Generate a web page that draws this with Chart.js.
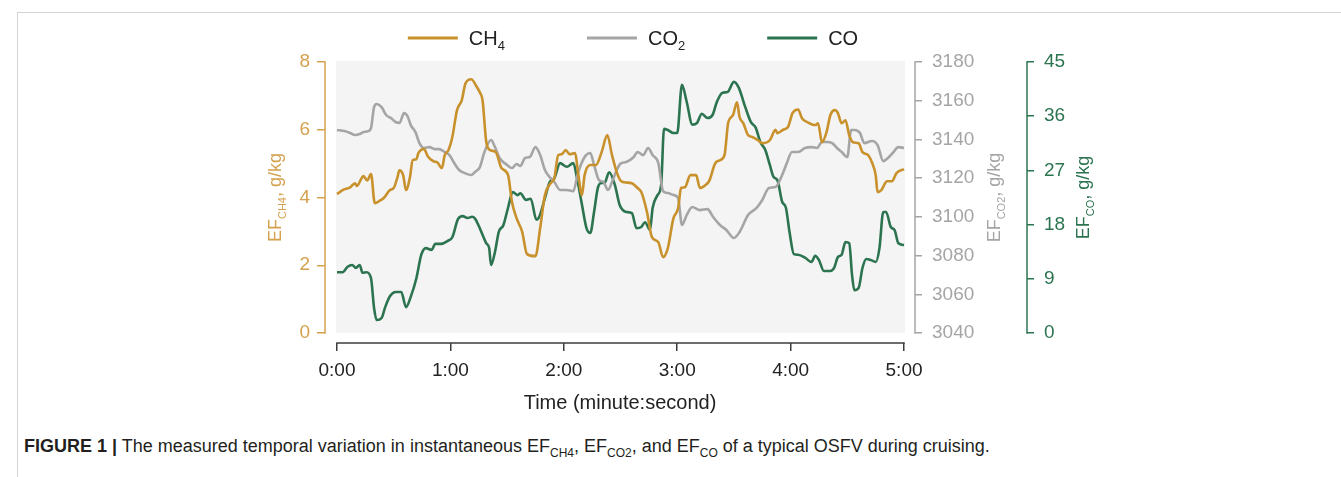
<!DOCTYPE html>
<html>
<head>
<meta charset="utf-8">
<script src="https://cdn.jsdelivr.net/npm/chart.js@4/dist/chart.umd.min.js"></script>
<style>
  html, body { margin: 0; padding: 0; background: #fff; }
  body { width: 1341px; height: 477px; position: relative; overflow: hidden; font-family: 'Liberation Sans', Arial, sans-serif; }
  #frame { position: absolute; left: 17px; top: 12px; right: -5px; bottom: -5px; border-left: 1px solid #d4d4d4; border-top: 1px solid #d4d4d4; }
  #wrap { position: absolute; left: 0; top: 0; width: 1341px; height: 430px; }
  #caption { position: absolute; left: 24px; top: 436px; font-size: 18px; color: #231f20; white-space: nowrap; }
  #caption sub { font-size: 12px; }
</style>
</head>
<body>
<div id="frame"></div>
<div id="wrap"><canvas id="chart" width="1341" height="430"></canvas></div>
<div id="caption"><b>FIGURE 1 |</b> The measured temporal variation in instantaneous EF<sub>CH4</sub>, EF<sub>CO2</sub>, and EF<sub>CO</sub> of a typical OSFV during cruising.</div>
<script>
// time in seconds
const ch4Time = [0, 3, 7, 9.5, 10.5, 13, 14, 16, 18, 20,
  23, 25, 28, 30, 32, 33, 35, 36.5, 38.6, 40,
  42, 43, 46, 48, 51, 53, 55.5, 57, 59, 61,
  63.5, 66, 68, 71, 74, 75.6, 77, 79, 81, 84,
  87, 90.5, 92.6, 95, 98, 100.5, 105, 107.5, 110, 113,
  115, 117, 119, 121, 123, 126, 127.5, 129.6, 131, 134,
  137, 140, 143, 145.5, 148, 150, 152, 156, 159, 161,
  164, 166.6, 170, 172.5, 175, 178, 180.5, 182, 184, 187,
  190, 192, 195, 197, 200, 202.6, 205, 207, 209.5, 211.6,
  213, 215, 217.5, 220, 222.7, 225, 229, 232, 233, 236,
  238.6, 241, 244, 246, 249, 253, 254.5, 256.6, 259, 261,
  263.5, 265, 267, 269, 271, 273, 276, 278, 281, 283,
  285, 286, 288, 291, 293.6, 296, 300];
const ch4Values = [4.10, 4.22, 4.30, 4.42, 4.34, 4.57, 4.63, 4.50, 4.69, 3.83,
  3.92, 4.00, 4.22, 4.28, 4.60, 4.80, 4.66, 4.22, 4.60, 5.10,
  5.13, 5.30, 5.43, 5.22, 5.07, 5.04, 4.87, 5.25, 5.40, 5.78,
  6.58, 6.87, 7.37, 7.49, 7.26, 7.10, 6.87, 5.63, 5.40, 5.34,
  4.87, 4.66, 3.86, 3.39, 2.98, 2.33, 2.27, 3.10, 4.07, 4.42,
  4.57, 5.25, 5.28, 5.40, 5.28, 5.31, 4.75, 4.07, 4.66, 4.96,
  4.96, 5.34, 5.84, 5.25, 4.75, 4.50, 4.45, 4.42, 4.28, 4.16,
  3.57, 2.83, 2.68, 2.24, 2.50, 3.39, 3.69, 4.28, 4.30, 4.66,
  4.66, 4.28, 4.37, 4.50, 5.00, 5.10, 5.25, 6.22, 6.43, 6.81,
  6.37, 6.19, 5.84, 5.78, 5.69, 5.60, 5.69, 6.00, 5.90, 6.00,
  6.08, 6.49, 6.60, 6.34, 6.22, 6.14, 6.19, 5.63, 5.93, 6.43,
  6.58, 6.49, 6.19, 6.28, 5.84, 5.63, 5.60, 5.34, 5.25, 5.04,
  4.66, 4.16, 4.22, 4.48, 4.48, 4.72, 4.84];

const co2Time = [0, 4, 7, 9.5, 12, 14, 16.5, 18, 19.6, 21,
  23.6, 26, 28.6, 31, 33, 35.5, 37.5, 39, 41.5, 43.6,
  46, 49, 51.6, 54, 57, 59.5, 62, 64.6, 67.6, 71,
  73, 75.6, 78, 81.5, 83.6, 86, 90, 92.6, 95, 97,
  99.5, 102, 105, 107.5, 110, 113, 115, 118, 121.6, 125,
  127.5, 131, 134, 136, 138.6, 141, 143.4, 145.5, 148, 150,
  153, 157, 159, 162, 164.6, 167, 170, 172.5, 175, 178,
  180.5, 182.5, 185, 188, 192, 196, 199, 202.6, 206, 210,
  213, 217.5, 222, 225, 228.5, 232, 235.5, 238, 240.7, 244,
  247.6, 251, 254, 256.6, 259, 262, 264.5, 267, 270, 272,
  274, 276.7, 279, 283, 286, 289, 291.5, 294, 297, 300];
const co2Values = [3144.9, 3144.3, 3143.3, 3142.3, 3142.8, 3143.8, 3144.3, 3145.9, 3156.7, 3158.3,
  3156.7, 3152.6, 3151, 3149, 3148.5, 3153.6, 3151.6, 3147.4, 3143.8, 3138.1,
  3135.6, 3136, 3135, 3135, 3133.5, 3131.9, 3127.8, 3124.2, 3122.6, 3121.6,
  3123.2, 3125.7, 3133.5, 3139.7, 3136, 3130.4, 3126.8, 3125.2, 3127.3, 3126.3,
  3130.4, 3130.9, 3136, 3131.9, 3124.2, 3120, 3118, 3113.9, 3113.9, 3113.3,
  3122.6, 3130.9, 3133, 3126.8, 3119, 3118, 3113.9, 3118, 3124.2, 3127.5,
  3128.3, 3130.9, 3133.5, 3131.9, 3135.6, 3131.9, 3127.8, 3113.3, 3112.3, 3111.3,
  3109.7, 3095.8, 3100.9, 3105.1, 3103.5, 3104, 3099.9, 3095.8, 3093.2, 3089.1,
  3092.2, 3100.9, 3104.6, 3108.7, 3114.9, 3115.4, 3121.6, 3127.8, 3133.5, 3133.5,
  3135.6, 3136, 3135.6, 3138.7, 3138.7, 3138.1, 3135.6, 3133.5, 3130.9, 3144.9,
  3144.9, 3143.3, 3138.1, 3139.2, 3137.1, 3128.8, 3130.4, 3133, 3136, 3135.6];

const coTime = [0, 3, 5.6, 8, 10, 12, 13.5, 15.6, 18, 19.6,
  21, 23.6, 25.5, 28, 31, 34, 36.5, 39, 42, 44.6,
  47, 50, 52, 55, 58.6, 61, 64, 66.6, 69, 71.5,
  73, 75, 77, 79, 80.5, 81.5, 83.6, 85.6, 88, 90.5,
  93, 95.6, 97, 100, 102.5, 105.5, 107, 110, 112.6, 115,
  118, 121.6, 125, 127, 129.6, 132, 134, 136, 138, 140,
  141.5, 144, 147, 149.5, 151, 153, 156, 158.5, 161, 163,
  165.6, 167, 169.6, 171.5, 173, 175, 178, 180, 182.5, 185,
  188, 190.5, 193, 196, 198.7, 201, 204, 206.6, 210, 212.6,
  216, 219, 221.5, 224, 226.6, 229, 231, 233, 235.5, 237.5,
  239.4, 241.7, 244, 247.6, 251, 253, 255, 257.6, 261, 263,
  265, 267, 269, 271, 272.5, 273.7, 276, 278, 280, 282.5,
  285, 287, 289, 290.5, 293, 295, 297, 300];
const coValues = [10.1, 10.1, 11.0, 11.3, 10.8, 11.3, 10.0, 10.1, 9.1, 4.15,
  2.16, 2.5, 4.3, 6.1, 6.8, 6.8, 4.3, 6.0, 9.1, 13.0,
  14.1, 13.8, 14.8, 14.8, 15.3, 15.9, 18.9, 19.4, 19.1, 19.3,
  19.0, 17.8, 16.3, 14.9, 14.1, 11.3, 13.5, 16.8, 17.9, 20.8,
  23.4, 22.9, 23.2, 22.1, 22.3, 18.8, 19.3, 22.4, 25.1, 25.7,
  28.2, 27.6, 28.2, 25.7, 21.3, 17.4, 16.6, 20.1, 24.1, 24.9,
  24.9, 26.7, 24.6, 21.3, 20.5, 20.1, 19.9, 17.4, 17.6, 18.4,
  17.1, 20.8, 22.9, 24.6, 33.9, 33.7, 33.2, 33.2, 41.2, 38.4,
  34.6, 34.9, 36.4, 35.7, 36.2, 38.4, 39.9, 40.0, 41.7, 40.7,
  37.5, 35.0, 34.1, 31.7, 30.4, 27.9, 25.9, 25.4, 21.8, 20.8,
  16.8, 13.1, 13.0, 12.5, 11.8, 12.8, 12.1, 10.3, 10.3, 10.8,
  12.6, 13.0, 15.1, 14.9, 9.6, 7.1, 7.5, 10.8, 12.3, 12.1,
  11.8, 14.1, 20.1, 20.1, 17.6, 17.1, 14.9, 14.6];

const timeTicks = [0, 60, 120, 180, 240, 300];
const ch4Ticks = [0, 2, 4, 6, 8];
const co2Ticks = [3040, 3060, 3080, 3100, 3120, 3140, 3160, 3180];
const coTicks = [0, 9, 18, 27, 36, 45];

const ORANGE = '#c8912b';
const ORANGE_AX = '#d4a24f';
const GREY = '#a5a5a5';
const GREEN = '#2c7450';
const TEXT = '#222222';

function toPoints(times, values) {
  return times.map((t, i) => ({ x: t, y: values[i] }));
}

function fmtTime(v) {
  const m = Math.floor(v / 60);
  const s = Math.round(v % 60);
  return m + ':' + String(s).padStart(2, '0');
}

// grey panel behind the lines
const panelBg = {
  id: 'panelBg',
  beforeDatasetsDraw(chart) {
    const { ctx, scales } = chart;
    const x0 = scales.x.getPixelForValue(0) - 1;
    const x1 = scales.x.getPixelForValue(300) + 1;
    const y0 = scales.yCH4.getPixelForValue(8) - 1;
    const y1 = scales.yCH4.getPixelForValue(0);
    ctx.save();
    ctx.fillStyle = '#f4f4f4';
    ctx.fillRect(x0, y0, x1 - x0, y1 - y0);
    ctx.restore();
  }
};

// axis lines only between the first and last tick, like the original
const axisLines = {
  id: 'axisLines',
  afterDraw(chart) {
    const { ctx, scales } = chart;
    ctx.save();
    ctx.lineWidth = 1.5;
    const x = scales.x;
    ctx.strokeStyle = '#3c3c3c';
    ctx.beginPath();
    ctx.moveTo(x.getPixelForValue(0) - 0.75, x.top);
    ctx.lineTo(x.getPixelForValue(300) + 0.75, x.top);
    ctx.stroke();
    [['yCH4', ORANGE_AX, 'right'], ['yCO2', GREY, 'left'], ['yCO', GREEN, 'left']].forEach(([id, col, side]) => {
      const s = scales[id];
      const ticks = s.ticks;
      const px = s[side];
      ctx.strokeStyle = col;
      ctx.beginPath();
      ctx.moveTo(px, s.getPixelForValue(ticks[0].value) + 0.75);
      ctx.lineTo(px, s.getPixelForValue(ticks[ticks.length - 1].value) - 0.75);
      ctx.stroke();
    });
    ctx.restore();
  }
};

// text with a subscript part, drawn from a starting x on a baseline
function drawParts(ctx, parts, x, y) {
  parts.forEach(p => {
    ctx.font = p.size + 'px "Liberation Sans", Arial, sans-serif';
    ctx.fillText(p.text, x, y + (p.dy || 0));
    x += ctx.measureText(p.text).width;
  });
}
function partsWidth(ctx, parts) {
  let w = 0;
  parts.forEach(p => {
    ctx.font = p.size + 'px "Liberation Sans", Arial, sans-serif';
    w += ctx.measureText(p.text).width;
  });
  return w;
}

const yTitles = {
  id: 'yTitles',
  afterDraw(chart) {
    const { ctx, scales } = chart;
    const midY = (scales.yCH4.getPixelForValue(8) + scales.yCH4.getPixelForValue(0)) / 2;
    const titles = [
      { x: 281, color: ORANGE_AX, sub: 'CH4' },
      { x: 1000, color: GREY, sub: 'CO2' },
      { x: 1089, color: GREEN, sub: 'CO' }
    ];
    titles.forEach(t => {
      const parts = [
        { text: 'EF', size: 18 },
        { text: t.sub, size: 11, dy: 5 },
        { text: ', g/kg', size: 18 }
      ];
      ctx.save();
      ctx.fillStyle = t.color;
      ctx.textBaseline = 'alphabetic';
      ctx.translate(t.x, midY);
      ctx.rotate(-Math.PI / 2);
      const w = partsWidth(ctx, parts);
      drawParts(ctx, parts, -w / 2, 0);
      ctx.restore();
    });
  }
};

// legend with real subscripts
const subLegend = {
  id: 'subLegend',
  afterDraw(chart) {
    const { ctx, chartArea } = chart;
    const lineLen = 50, gap = 11, itemGap = 82, cy = 38;
    const items = chart.data.datasets.map(ds => {
      const m = ds.label.match(/^(\D+)(\d*)$/);
      const parts = [{ text: m[1], size: 20 }];
      if (m[2]) parts.push({ text: m[2], size: 13, dy: 5 });
      return { color: ds.borderColor, parts };
    });
    let total = 0;
    items.forEach((it, i) => {
      it.w = lineLen + gap + partsWidth(ctx, it.parts);
      total += it.w + (i ? itemGap : 0);
    });
    let x = (chartArea.left + chartArea.right) / 2 + 13 - total / 2;
    ctx.save();
    items.forEach(it => {
      ctx.strokeStyle = it.color;
      ctx.lineWidth = 3;
      ctx.beginPath();
      ctx.moveTo(x, cy);
      ctx.lineTo(x + lineLen, cy);
      ctx.stroke();
      ctx.fillStyle = TEXT;
      ctx.textBaseline = 'alphabetic';
      drawParts(ctx, it.parts, x + lineLen + gap, cy + 7);
      x += it.w + itemGap;
    });
    ctx.restore();
  }
};

const lineStyle = {
  borderWidth: 2.6,
  pointRadius: 0,
  fill: false,
  cubicInterpolationMode: 'monotone'
};

const tickFont = { family: '"Liberation Sans", Arial, sans-serif', size: 19 };

new Chart(document.getElementById('chart'), {
  type: 'line',
  data: {
    datasets: [
      { label: 'CH4', data: toPoints(ch4Time, ch4Values), borderColor: ORANGE, backgroundColor: ORANGE, yAxisID: 'yCH4', ...lineStyle },
      { label: 'CO2', data: toPoints(co2Time, co2Values), borderColor: GREY, backgroundColor: GREY, yAxisID: 'yCO2', ...lineStyle },
      { label: 'CO', data: toPoints(coTime, coValues), borderColor: GREEN, backgroundColor: GREEN, yAxisID: 'yCO', ...lineStyle }
    ]
  },
  options: {
    responsive: false,
    animation: false,
    devicePixelRatio: 1,
    layout: { padding: { left: 0, right: 214, top: 62, bottom: 0 } },
    plugins: {
      legend: { display: false },
      tooltip: { enabled: false }
    },
    scales: {
      x: {
        type: 'linear',
        min: -6.35,
        max: 305.8,
        afterBuildTicks: s => { s.ticks = timeTicks.map(v => ({ value: v })); },
        afterFit: s => { s.height = 87; },
        ticks: { callback: v => fmtTime(v), color: TEXT, font: tickFont, padding: 8, maxRotation: 0, autoSkip: false },
        grid: { drawOnChartArea: false, tickLength: 8, color: '#3c3c3c', lineWidth: 1.5 },
        border: { display: false },
        title: { display: true, text: 'Time (minute:second)', color: TEXT, font: { family: '"Liberation Sans", Arial, sans-serif', size: 20 }, padding: { top: 4, bottom: 15 } }
      },
      yCH4: {
        position: 'left',
        min: -0.295,
        max: 8,
        afterBuildTicks: s => { s.ticks = ch4Ticks.map(v => ({ value: v })); },
        afterFit: s => { s.width = 325; },
        ticks: { callback: v => String(v), color: ORANGE_AX, font: tickFont, padding: 7 },
        grid: { drawOnChartArea: false, tickLength: 8, color: ORANGE_AX, lineWidth: 1.5 },
        border: { display: false }
      },
      yCO2: {
        position: 'right',
        weight: 0,
        min: 3034.83,
        max: 3180,
        afterBuildTicks: s => { s.ticks = co2Ticks.map(v => ({ value: v })); },
        afterFit: s => { s.width = 112; },
        ticks: { callback: v => String(v), color: GREY, font: tickFont, padding: 10 },
        grid: { drawOnChartArea: false, tickLength: 7, color: GREY, lineWidth: 1.5 },
        border: { display: false }
      },
      yCO: {
        position: 'right',
        weight: 1,
        min: -1.66,
        max: 45,
        afterBuildTicks: s => { s.ticks = coTicks.map(v => ({ value: v })); },
        afterFit: s => { s.width = 100; },
        ticks: { callback: v => String(v), color: GREEN, font: tickFont, padding: 10 },
        grid: { drawOnChartArea: false, tickLength: 7, color: GREEN, lineWidth: 1.5 },
        border: { display: false }
      }
    }
  },
  plugins: [panelBg, axisLines, yTitles, subLegend]
});
</script>
</body>
</html>
